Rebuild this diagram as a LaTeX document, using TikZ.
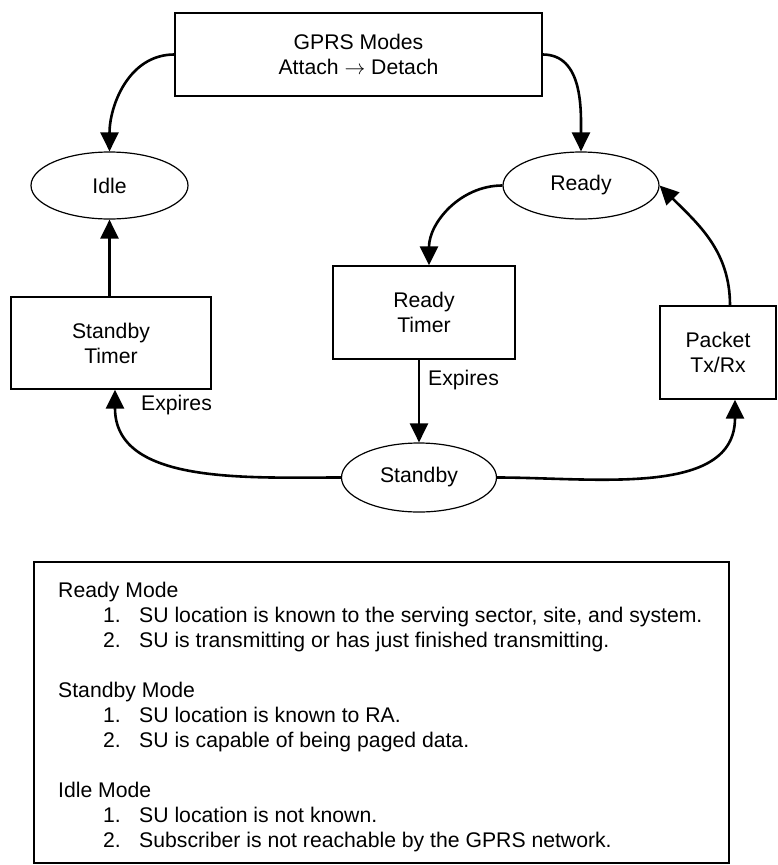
\documentclass[tikz,border=0pt]{standalone}
\usepackage{fontspec}
\setmainfont{Liberation Sans}
\usetikzlibrary{arrows.meta,shapes.geometric}
\begin{document}
\begin{tikzpicture}[x=1pt,y=-1pt,
  every node/.style={font=\fontsize{21.2}{25}\selectfont},
  boxnode/.style={draw,line width=1.4pt,rectangle,inner sep=0pt,align=center},
  ellnode/.style={draw,line width=1.2pt,ellipse,inner sep=0pt},
  arr/.style={line width=2.6pt,-{Triangle[length=19pt,width=18pt]}},
  lbl/.style={inner sep=0pt,anchor=west},
  txt/.style={inner sep=0pt,anchor=base west}]
\useasboundingbox (0,0) rectangle (777,865);
% nodes
\node[boxnode,minimum width=367pt,minimum height=83pt] (top) at (358.5,54.5) {GPRS Modes\\Attach $\rightarrow$ Detach};
\node[ellnode,minimum width=157pt,minimum height=67pt] (idle) at (109.5,185.5) {Idle};
\node[ellnode,minimum width=156pt,minimum height=67pt] (ready) at (581,185.5) {Ready};
\node[boxnode,minimum width=182pt,minimum height=93pt] (rtimer) at (424,312.5) {Ready\\Timer};
\node[boxnode,minimum width=200pt,minimum height=92pt] (stimer) at (111,343) {Standby\\Timer};
\node[boxnode,minimum width=116pt,minimum height=93pt] (packet) at (718,352.5) {Packet\\Tx/Rx};
\node[ellnode,minimum width=155pt,minimum height=69pt] (standby) at (419,477.5) {Standby};
\node[lbl] (exp1) at (428,380) {Expires};
\node[lbl] (exp2) at (141,405) {Expires};
% connectors
\draw[arr] (top.west) to[out=180,in=90] (idle.north);
\draw[arr] (top.east) to[out=0,in=90] (ready.north);
\draw[arr] (ready.west) to[out=180,in=90] ([xshift=5pt]rtimer.north);
\draw[arr] (standby.north |- rtimer.south) -- (standby.north);
\draw[arr] (idle.south |- stimer.north) -- (idle.south);
\draw[arr] (standby.west) to[out=180,in=-90] ([xshift=4pt]stimer.south);
\draw[arr] (standby.east) to[out=0,in=-90] ([xshift=17pt]packet.south);
\draw[arr] ([xshift=12pt]packet.north) to[out=90,in=-45] (ready.east);
% legend box
\node[draw,line width=1.4pt,inner sep=0pt,minimum width=695pt,minimum height=301pt] (legend) at (381.5,712.5) {};
\node[txt] (h1) at (58,597) {Ready Mode};
\node[txt] (h1n1) at (103,622) {1.};
\node[txt] (h1t1) at (139,622) {SU location is known to the serving sector, site, and system.};
\node[txt] (h1n2) at (103,647) {2.};
\node[txt] (h1t2) at (139,647) {SU is transmitting or has just finished transmitting.};
\node[txt] (h2) at (58,697) {Standby Mode};
\node[txt] (h2n1) at (103,722) {1.};
\node[txt] (h2t1) at (139,722) {SU location is known to RA.};
\node[txt] (h2n2) at (103,747) {2.};
\node[txt] (h2t2) at (139,747) {SU is capable of being paged data.};
\node[txt] (h3) at (58,797) {Idle Mode};
\node[txt] (h3n1) at (103,822) {1.};
\node[txt] (h3t1) at (139,822) {SU location is not known.};
\node[txt] (h3n2) at (103,847) {2.};
\node[txt] (h3t2) at (139,847) {Subscriber is not reachable by the GPRS network.};
\end{tikzpicture}
\end{document}
